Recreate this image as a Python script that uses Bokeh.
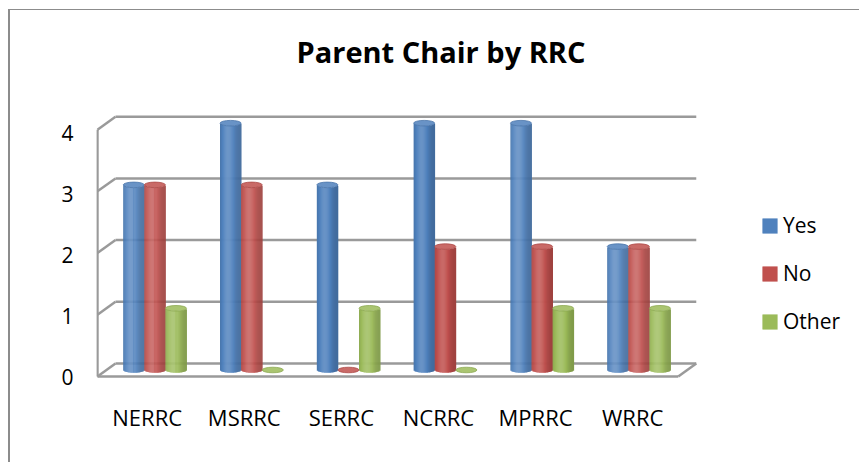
import math
from bokeh.plotting import figure
from bokeh.models import (Range1d, LinearAxis, FixedTicker, ColumnDataSource,
                          Legend, LegendItem, Spacer)
from bokeh.layouts import column, row
from bokeh.embed import file_html
from bokeh.resources import INLINE

# ---------------- data ----------------
categories = ["NERRC", "MSRRC", "SERRC", "NCRRC", "MPRRC", "WRRC"]
series_names = ["Yes", "No", "Other"]
yes_values = [3, 4, 3, 4, 4, 2]
no_values = [3, 3, 0, 2, 2, 2]
other_values = [1, 0, 1, 0, 1, 1]
y_ticks = [0, 1, 2, 3, 4]
title_text = "Parent Chair by RRC"

series_values = [yes_values, no_values, other_values]
series_colors = ["#4F81BD", "#C0504D", "#9BBB59"]

# ---------------- styling constants ----------------
FONT = "Open Sans"
GRID_COLOR = "#9a9a9a"
BAR_W = 0.218          # width of one cylinder (category units)
DX = 0.093             # half depth, x (category units)
DY = 0.105             # half depth, y (value units)
CAP_E = 0.045          # half height of cylinder cap ellipse (value units)
N_STRIPS = 21

W, H = 851, 453


def hex_to_rgb(h):
    h = h.lstrip("#")
    return tuple(int(h[i:i + 2], 16) for i in (0, 2, 4))


def shade(hexcol, m):
    r, g, b = hex_to_rgb(hexcol)
    if m >= 1:
        t = min(m - 1, 1)
        r, g, b = (r + (255 - r) * t, g + (255 - g) * t, b + (255 - b) * t)
    else:
        r, g, b = (r * m, g * m, b * m)
    return "#%02x%02x%02x" % (int(r), int(g), int(b))


p = figure(width=W, height=H, output_backend="svg", toolbar_location=None,
           x_axis_type=None, y_axis_type=None,
           x_range=Range1d(-0.603, 7.238), y_range=Range1d(-0.154, 4.724),
           min_border_left=86, min_border_right=6,
           min_border_top=68, min_border_bottom=84,
           background_fill_color="white", border_fill_color="white",
           outline_line_color=None)
p.grid.visible = False
p.styles = {"border-top": "1px solid #8c8c8c", "border-left": "2px solid #8c8c8c"}

# extra ranges for the labels that sit on the front plane
p.extra_x_ranges = {"front": Range1d(-0.522, 7.295)}
p.extra_y_ranges = {"front": Range1d(-0.049, 4.893)}

n_cat = len(categories)
XL, XR = -0.5, n_cat - 0.5
ymax = max(y_ticks)

# ---------------- walls / grid ----------------
p.segment(x0=[XL + DX] * len(y_ticks), x1=[XR + DX] * len(y_ticks),
          y0=[t + DY for t in y_ticks], y1=[t + DY for t in y_ticks],
          line_color=GRID_COLOR, line_width=2.5)
p.segment(x0=[XL - DX] * len(y_ticks), x1=[XL + DX] * len(y_ticks),
          y0=[t - DY for t in y_ticks], y1=[t + DY for t in y_ticks],
          line_color=GRID_COLOR, line_width=2.5)
p.segment(x0=[XL - DX], x1=[XL - DX], y0=[0 - DY], y1=[ymax - DY],
          line_color=GRID_COLOR, line_width=2.5)
p.segment(x0=[XL - DX, XR - DX], x1=[XR - DX, XR + DX],
          y0=[0 - DY, 0 - DY], y1=[0 - DY, 0 + DY],
          line_color=GRID_COLOR, line_width=2.5)

# ---------------- cylinders ----------------
legend_items = []
offsets = [-BAR_W, 0.0, BAR_W]
for s, (name, vals, col) in enumerate(zip(series_names, series_values, series_colors)):
    left, right, bottom, top, colors = [], [], [], [], []
    mid_index = None
    for i, v in enumerate(vals):
        xc = i + offsets[s]
        for k in range(N_STRIPS):
            u = -1 + (2 * k + 1) / N_STRIPS
            sq = math.sqrt(max(0.0, 1 - u * u))
            m = 0.82 + 0.33 * math.exp(-((u + 0.25) / 0.65) ** 2)
            left.append(xc - BAR_W / 2 + k * BAR_W / N_STRIPS)
            right.append(xc - BAR_W / 2 + (k + 1) * BAR_W / N_STRIPS + 0.004)
            bottom.append(0 - CAP_E * sq)
            top.append(v - CAP_E * sq)
            colors.append(shade(col, m))
            if i == 0 and k == N_STRIPS // 2:
                mid_index = len(colors) - 1
                colors[-1] = col
    src = ColumnDataSource(dict(left=left, right=right, bottom=bottom, top=top, color=colors))
    r = p.quad(left="left", right="right", bottom="bottom", top="top",
               fill_color="color", line_color=None, source=src)
    cap_src = ColumnDataSource(dict(x=[i + offsets[s] for i in range(n_cat)], y=vals))
    p.ellipse(x="x", y="y", width=BAR_W, height=2 * CAP_E, source=cap_src,
              fill_color=shade(col, 1.15), line_color=shade(col, 0.9), line_width=0.8)
    legend_items.append(LegendItem(label=name, renderers=[r], index=mid_index))

# ---------------- axes ----------------
yax = LinearAxis(y_range_name="front", ticker=FixedTicker(ticks=y_ticks))
yax.axis_line_color = None
yax.major_tick_line_color = None
yax.minor_tick_line_color = None
yax.major_tick_in = 0
yax.major_tick_out = 0
yax.minor_tick_in = 0
yax.minor_tick_out = 0
yax.major_label_standoff = 23
yax.major_label_text_font = FONT
yax.major_label_text_font_size = "21px"
yax.major_label_text_color = "black"
p.add_layout(yax, "left")

xax = LinearAxis(x_range_name="front", ticker=FixedTicker(ticks=list(range(n_cat))))
xax.major_label_overrides = {i: c for i, c in enumerate(categories)}
xax.axis_line_color = None
xax.major_tick_line_color = None
xax.minor_tick_line_color = None
xax.major_tick_in = 0
xax.major_tick_out = 0
xax.minor_tick_in = 0
xax.minor_tick_out = 0
xax.major_label_standoff = 22
xax.major_label_text_font = FONT
xax.major_label_text_font_size = "22px"
xax.major_label_text_color = "black"
p.add_layout(xax, "below")

# ---------------- title ----------------
p.title.text = title_text
p.title.text_font = FONT
p.title.text_font_style = "bold"
p.title.text_font_size = "29px"
p.title.text_color = "black"
p.title.align = "left"
p.title.offset = 200
p.title.standoff = 16

# ---------------- legend ----------------
legend = Legend(items=legend_items, location=(664, 44))
legend.border_line_color = None
legend.background_fill_alpha = 0
legend.label_text_font = FONT
legend.label_text_font_size = "21px"
legend.label_text_color = "black"
legend.glyph_width = 19
legend.glyph_height = 19
legend.label_height = 20
legend.spacing = 20
legend.padding = 0
legend.margin = 0
legend.label_standoff = 4
p.add_layout(legend, "center")

layout = column(Spacer(height=9), row(Spacer(width=8), p))
open("out.html", "w").write(file_html(layout, INLINE))
